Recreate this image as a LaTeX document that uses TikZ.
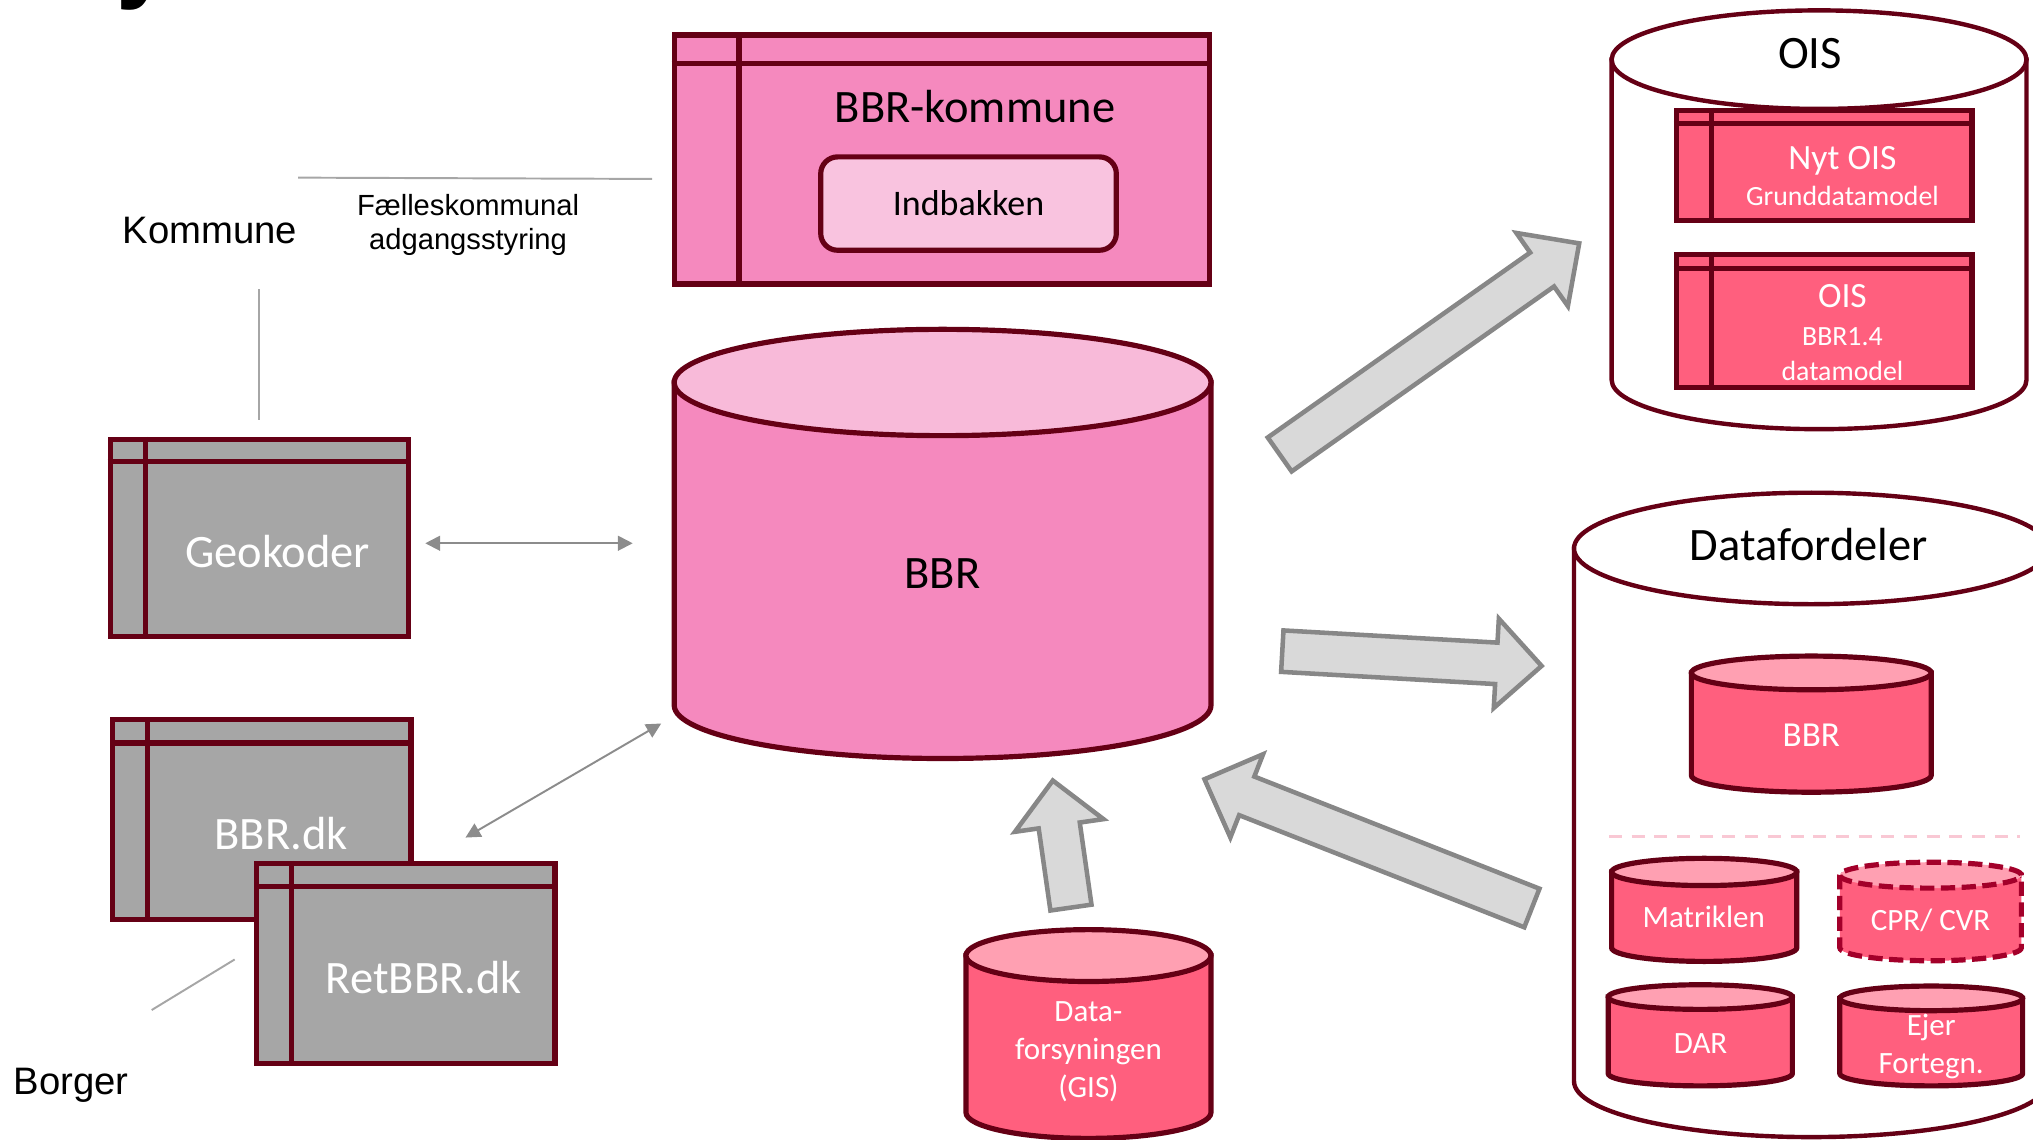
\documentclass[tikz,border=0pt]{standalone}
\usepackage{fontspec}
\setmainfont{Carlito}
\newfontfamily\arialfont{Liberation Sans}
\usetikzlibrary{arrows.meta, calc, fit}
\definecolor{bbrborder}{HTML}{650015}
\definecolor{bbrpink}{HTML}{F589BE}
\definecolor{bbrpinklight}{HTML}{F8BAD9}
\definecolor{inboxpink}{HTML}{F9C3DF}
\definecolor{coral}{HTML}{FF5F7E}
\definecolor{corallight}{HTML}{FFA0B2}
\definecolor{appgray}{HTML}{A6A6A6}
\definecolor{arrowfill}{HTML}{D9D9D9}
\definecolor{arrowline}{HTML}{878787}
\definecolor{linkgray}{HTML}{8C8C8C}
\definecolor{dashpink}{HTML}{F9C8D4}
\definecolor{cprred}{HTML}{A3002A}

% database cylinder: style, body fill, top fill, centre x, top centre y, bottom centre y, x radius, y radius
\newcommand{\dbcyl}[8]{%
  \filldraw[#1, fill=#2] (#4-#7,#5) -- (#4-#7,#6)
    arc[start angle=180, end angle=360, x radius=#7, y radius=#8] -- (#4+#7,#5) -- cycle;
  \filldraw[#1, fill=#3] (#4,#5) ellipse[x radius=#7, y radius=#8];}

% application window: name, fill, top left, bottom right, header depth, bar width
\newcommand{\appwin}[6]{%
  \node[appbox, fill=#2, fit={#3 #4}] (#1) {};
  \draw[winline] ($(#1.north west)+(0,-#5)$) -- ($(#1.north east)+(0,-#5)$);
  \draw[winline] ($(#1.north west)+(#6,0)$) -- ($(#1.south west)+(#6,0)$);}

% block arrow from #1 to #2
\newcommand{\fatarrow}[2]{%
  \coordinate (#2-base) at ($(#2)!3.5mm!(#1)$);
  \draw[fatarrow] ($(#1)!1.6mm!90:(#2)$) -- ($(#2-base)!1.6mm!90:(#2)$)
    -- ($(#2-base)!3.45mm!90:(#2)$) -- (#2) -- ($(#2-base)!3.45mm!-90:(#2)$)
    -- ($(#2-base)!1.6mm!-90:(#2)$) -- ($(#1)!1.6mm!-90:(#2)$) -- cycle;}

\begin{document}
\begin{tikzpicture}[x=0.1mm, y=0.1mm,
  appbox/.style={rectangle, draw=bbrborder, line width=0.4mm, inner sep=0pt},
  winline/.style={draw=bbrborder, line width=0.4mm},
  dbline/.style={draw=bbrborder, line width=0.4mm},
  dbouter/.style={draw=bbrborder, line width=0.34mm},
  cprline/.style={draw=cprred, line width=0.4mm, dash pattern=on 1.1mm off 0.5mm},
  bigtext/.style={font=\fontsize{10.2}{12}\selectfont, inner sep=0pt},
  whitebig/.style={bigtext, text=white},
  oistext/.style={font=\fontsize{7.8}{9}\selectfont, text=white, inner sep=0pt},
  oissub/.style={font=\fontsize{6.1}{7.6}\selectfont, text=white, inner sep=0pt, align=center},
  dbtext/.style={font=\fontsize{6.8}{8.4}\selectfont, text=white, inner sep=0pt, align=center},
  inbox/.style={rectangle, rounded corners=1.3mm, draw=bbrborder, line width=0.4mm, fill=inboxpink,
    minimum width=22.8mm, minimum height=7.2mm, font=\fontsize{7.9}{9}\selectfont},
  sidelabel/.style={font=\arialfont\fontsize{8.4}{10}\selectfont, inner sep=0pt},
  accesslabel/.style={font=\arialfont\fontsize{6.4}{7.4}\selectfont, inner sep=0pt, align=center},
  link/.style={draw=appgray, line width=0.15mm},
  twoway/.style={draw=linkgray, line width=0.15mm,
    arrows={Triangle[length=1.15mm, width=1.15mm]-Triangle[length=1.15mm, width=1.15mm]}},
  fatarrow/.style={fill=arrowfill, draw=arrowline, line width=0.35mm},
  separator/.style={draw=dashpink, line width=0.2mm, dash pattern=on 1mm off 0.75mm}
]
  \useasboundingbox (0,0) rectangle (1568,-879);

  % Title (cut off)
  \node[font=\arialfont\bfseries\fontsize{22}{22}\selectfont, anchor=base west, inner sep=0pt] (title) at (89,8) {y};

  % Left-hand labels
  \node[sidelabel] (kommune) at (162,-178) {Kommune};
  \node[accesslabel] (adgang) at (361,-173.5) {Fælleskommunal\\adgangsstyring};
  \node[sidelabel] (borger) at (55,-837) {Borger};

  \coordinate (adgang-l) at (230,-137);
  \coordinate (adgang-r) at (503,-138);
  \coordinate (kommune-top) at (200,-223);
  \coordinate (kommune-bot) at (200,-324);
  \coordinate (borger-l) at (117,-779);
  \coordinate (borger-r) at (181,-740);
  \draw[link] (adgang-l) -- (adgang-r);
  \draw[link] (kommune-top) -- (kommune-bot);
  \draw[link] (borger-l) -- (borger-r);

  % BBR-kommune
  \appwin{bbrkommune}{bbrpink}{(520,-27)}{(933,-219)}{24}{52}
  \node[bigtext] (bbrkommune-label) at (752,-82) {BBR-kommune};
  \node[inbox] (indbakken) at (747,-157) {Indbakken};

  % Geokoder, BBR.dk, RetBBR.dk
  \appwin{geokoder}{appgray}{(85,-339)}{(315,-491)}{19}{29}
  \node[whitebig] (geokoder-label) at (214,-425) {Geokoder};
  \appwin{bbrdk}{appgray}{(87,-555)}{(317,-709)}{20}{29}
  \node[whitebig] (bbrdk-label) at (217,-643) {BBR.dk};
  \appwin{retbbr}{appgray}{(198,-666)}{(428,-820)}{20}{29}
  \node[whitebig] (retbbr-label) at (327,-754) {RetBBR.dk};

  % BBR
  \dbcyl{dbline}{bbrpink}{bbrpinklight}{727}{-295}{-544}{207}{41}
  \node[bigtext] (bbr) at (727,-442) {BBR};

  % Dataforsyningen
  \dbcyl{dbline}{coral}{corallight}{839.5}{-737}{-858}{94.5}{20}
  \node[dbtext] (gis) at (839.5,-811) {Data-\\forsyningen\\(GIS)};

  % OIS
  \dbcyl{dbouter}{white}{white}{1403}{-46}{-293}{160}{38}
  \node[bigtext] (ois) at (1396,-41) {OIS};
  \appwin{nytois}{coral}{(1293,-85)}{(1521,-170)}{12}{29}
  \node[oistext] (nytois-label) at (1421,-124) {Nyt OIS};
  \node[oissub] (nytois-sub) at (1421,-151) {Grunddatamodel};
  \appwin{oldois}{coral}{(1293,-196)}{(1521,-299)}{13}{29}
  \node[oistext] (oldois-label) at (1421,-228) {OIS};
  \node[oissub] (oldois-sub) at (1421,-273) {BBR1.4\\datamodel};

  % Datafordeler
  \dbcyl{dbouter}{white}{white}{1397}{-423}{-834}{183}{43}
  \node[bigtext] (datafordeler) at (1395,-420) {Datafordeler};
  \dbcyl{dbline}{coral}{corallight}{1397}{-519}{-598}{92.5}{13}
  \node[dbtext, font=\fontsize{7.7}{9}\selectfont] (df-bbr) at (1397,-567) {BBR};
  \coordinate (sep-l) at (1241,-645);
  \coordinate (sep-r) at (1558,-645);
  \draw[separator] (sep-l) -- (sep-r);
  \dbcyl{dbline}{coral}{corallight}{1314.4}{-672.5}{-731}{71.4}{10.5}
  \node[dbtext] (matriklen) at (1314,-707.5) {Matriklen};
  \dbcyl{cprline}{coral}{corallight}{1489}{-675}{-731}{70}{10}
  \node[dbtext] (cpr) at (1489,-709.5) {CPR/ CVR};
  \dbcyl{dbline}{coral}{corallight}{1311.4}{-769}{-828}{71}{9.5}
  \node[dbtext] (dar) at (1311.6,-805) {DAR};
  \dbcyl{dbline}{coral}{corallight}{1489.5}{-770}{-828}{70.5}{9.5}
  \node[dbtext] (ejer) at (1489.5,-807) {Ejer\\Fortegn.};

  % Thin arrows
  \coordinate (geokoder-out) at (328,-419);
  \coordinate (bbr-west) at (488,-419);
  \coordinate (bbrdk-out) at (359,-646);
  \coordinate (bbr-sw) at (510,-558);
  \draw[twoway] (geokoder-out) -- (bbr-west);
  \draw[twoway] (bbrdk-out) -- (bbr-sw);

  % Block arrows
  \coordinate (gis-tail) at (826,-700);
  \coordinate (gis-tip) at (812,-602);
  \coordinate (ois-tail) at (987,-350.5);
  \coordinate (ois-tip) at (1218,-187.7);
  \coordinate (df-tail) at (989,-502.2);
  \coordinate (df-tip) at (1189,-513.6);
  \coordinate (back-tail) at (1181.5,-700.3);
  \coordinate (back-tip) at (929,-601);
  \fatarrow{gis-tail}{gis-tip}
  \fatarrow{ois-tail}{ois-tip}
  \fatarrow{df-tail}{df-tip}
  \fatarrow{back-tail}{back-tip}
\end{tikzpicture}
\end{document}
